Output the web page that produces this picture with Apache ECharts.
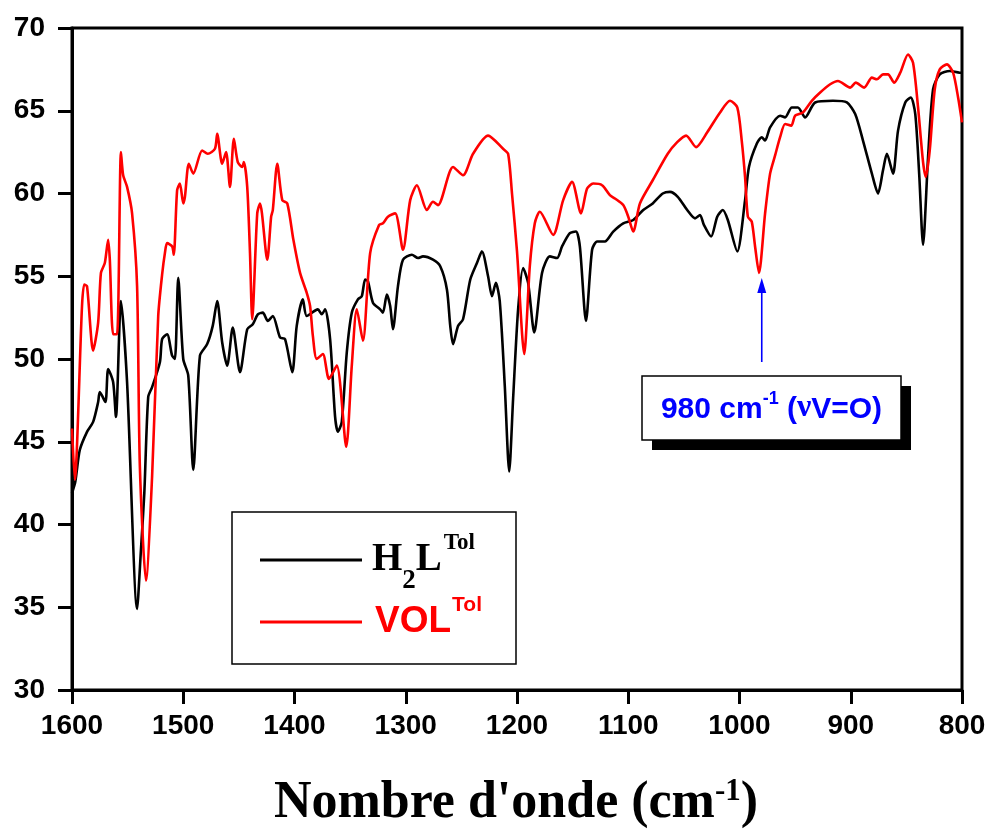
<!DOCTYPE html>
<html><head><meta charset="utf-8">
<script src="https://cdn.jsdelivr.net/npm/echarts@6/dist/echarts.min.js"></script>
<style>html,body{margin:0;padding:0;background:#fff}#c{width:989px;height:831px}</style>
</head><body><div id="c"></div>
<script>
// [wavenumber (cm-1), transmittance]
const h2lData = [[1600,41.9],[1597,42.6],[1593,44.5],[1586.5,45.6],[1581,46.2],[1576.5,47.4],[1575,48],[1570,47.4],[1567.5,49.4],[1563,48.6],[1560.5,46.5],[1556,53.5],[1550.5,48.6],[1541.5,34.9],[1538,38.5],[1535,41.9],[1531.5,47.7],[1528,48.3],[1521,49.8],[1519,51.2],[1514.5,51.5],[1510,50.2],[1507.5,50],[1504.5,54.9],[1500,50],[1495.5,49],[1491,43.3],[1485,50.2],[1478.5,50.9],[1473.5,52],[1469.5,53.5],[1465,51],[1460.5,49.6],[1455.5,51.9],[1449,49.2],[1442.5,51.8],[1437.5,52.1],[1433,52.7],[1428.5,52.8],[1424,52.3],[1419.5,52.6],[1413,51.3],[1408.5,51.2],[1402,49.2],[1398,52],[1392.5,53.6],[1389,52.6],[1379,53],[1375.5,52.7],[1372.5,53],[1368,51.2],[1363.5,46.5],[1361,45.6],[1357.5,46.2],[1353,50.4],[1348.5,52.8],[1343,53.6],[1339.5,53.8],[1336.5,54.8],[1334,54.7],[1329.5,53.4],[1323,53],[1320.5,52.8],[1317,53.9],[1314,53.2],[1311.5,51.8],[1307,54.4],[1302.5,56],[1294.5,56.3],[1289,56.1],[1284.5,56.2],[1275.5,56],[1269,55.6],[1263,54.2],[1260,52],[1257.5,50.9],[1253,52],[1248.5,52.4],[1242,54.8],[1236,55.8],[1231.5,56.5],[1226,55],[1222.5,53.8],[1219,54.6],[1215.5,53.5],[1211,48.4],[1207,43.2],[1203.5,47.6],[1199,53],[1194.5,55.5],[1190,54.6],[1184.5,51.6],[1177.5,55.2],[1170.5,56.2],[1164,56.1],[1159.5,56.8],[1152.5,57.6],[1147,57.7],[1143.5,56.8],[1138,52.3],[1132.5,56.6],[1128,57.1],[1121,57.1],[1113.5,57.7],[1104.5,58.2],[1095.5,58.4],[1086.5,59],[1078,59.4],[1069,60],[1062.5,60.1],[1055.5,59.8],[1047,59],[1040,58.5],[1035.5,58.7],[1032,58.1],[1025.5,57.4],[1020,58.6],[1015,59],[1010.5,58.4],[1002,56.5],[995,59.6],[991.5,61.6],[984.5,63],[980,63.4],[977,63.2],[972.5,64],[963.5,64.7],[959,64.6],[953,65.2],[947.5,65.2],[941,64.6],[932,65.5],[916,65.6],[903.5,65.5],[896,64.8],[889,63.2],[881,61.2],[875.5,60],[871,61.4],[867.5,62.4],[862,61.2],[857.5,63.8],[851,65.5],[846,65.8],[842,64.8],[838.5,61.2],[835,56.9],[830.5,62.2],[826,66.3],[820,67.2],[811,67.4],[802,67.3],[800,67.3]];

const volData = [[1600,45.8],[1597.5,42.7],[1591,53.2],[1589,54.5],[1586.5,54.4],[1581,50.5],[1576.5,52.2],[1574,55.2],[1570.5,55.8],[1567.5,57.2],[1566,56],[1563,51.5],[1559.5,51.5],[1556,62.5],[1554,61.1],[1550.5,60.4],[1546,58.8],[1541.5,54.4],[1539,43.5],[1533.5,36.6],[1528,42.9],[1522.5,52.6],[1519,55.1],[1516.5,56.4],[1514.5,57],[1510,56.8],[1508.5,56.3],[1505.5,60.2],[1503,60.6],[1500,59.4],[1498.5,59.8],[1495,61.8],[1491,61.2],[1483,62.6],[1478,62.4],[1471.5,62.7],[1469.5,63.6],[1465,61.8],[1461.5,62.5],[1458,60.4],[1454.5,63.3],[1451,61.9],[1447,61.6],[1445.5,61.9],[1442.5,60.4],[1440,56.4],[1438,52.4],[1433.5,58.8],[1431,59.4],[1424.5,56],[1421,58.6],[1419.5,59],[1415.5,61.8],[1411,59.6],[1406.5,59.4],[1401,57.2],[1395,55.2],[1389,54],[1386,53.2],[1383.5,51.4],[1380,50],[1374.5,50.3],[1369,48.8],[1362,49.6],[1353.5,44.7],[1348.5,49.6],[1344,53],[1338.5,51.1],[1332,56.4],[1324,58.1],[1320.5,58.2],[1316,58.6],[1309.5,58.8],[1302.5,56.6],[1296,59.6],[1290,60.5],[1281,59],[1275.5,59.5],[1271,59.3],[1257.5,61.6],[1248.5,61.1],[1239.5,62.4],[1226,63.5],[1212.5,62.7],[1208,62.4],[1204.5,60],[1200,56.5],[1193.5,50.3],[1188.5,55.6],[1184,58.2],[1179.5,58.9],[1167.5,57.5],[1158.5,59.6],[1150.5,60.7],[1142.5,58.8],[1137,60.3],[1131.5,60.6],[1123.5,60.5],[1116.5,59.9],[1112,59.7],[1104.5,59.3],[1100,58.6],[1095.5,57.7],[1089.5,59.4],[1078,60.8],[1064.5,62.4],[1056,63.1],[1048,63.5],[1039,62.8],[1029,63.7],[1017.5,64.9],[1008.5,65.6],[1002,65.2],[998,63.2],[995,61],[992.5,58.6],[989,58.3],[986,56.8],[982.5,55.2],[977,58.8],[972.5,61.2],[968,62.3],[963.5,63.4],[959,64.2],[953.5,64.1],[950,64.7],[943,64.9],[935,65.6],[927.5,66.1],[918.5,66.6],[911.5,66.8],[900.5,66.4],[895.5,66.7],[888,66.4],[881,67],[876.5,66.9],[871,67.2],[866.5,67.2],[861,66.7],[855.5,67.3],[848.5,68.4],[844,67.9],[839.5,65.2],[835,61.9],[832.5,61],[829,62.6],[824.5,66.3],[820,67.5],[813.5,67.8],[808,67.3],[803.5,65.8],[800,64.3]];

const seriesNames = ['H2L', 'VOL'];
const xRange = [800, 1600];
const yRange = [30, 70];
const annotWave = 980;

const SERIF = '"Liberation Serif","Times New Roman",serif';
const SANS = '"Liberation Sans",Arial,sans-serif';
const ctx = document.createElement('canvas').getContext('2d');
function tw(t, f) { ctx.font = f; return ctx.measureText(t).width; }
function txt(t, x, y, font, fill) {
  return { type: 'text', x: x, y: y, z: 100,
    style: { text: t, font: font, fill: fill, textAlign: 'left', textVerticalAlign: 'middle', align: 'left', verticalAlign: 'middle' } };
}

const chart = echarts.init(document.getElementById('c'), null, { renderer: 'canvas' });

// title pieces
const fT1 = 'bold 52px ' + SERIF, fT2 = 'bold 31px ' + SERIF;
const t1 = "Nombre d'onde (cm", t2 = '-1', t3 = ')';
const wT = tw(t1, fT1) + tw(t2, fT2) + tw(t3, fT1);
const tx0 = 516 - wT / 2;

// legend pieces
const fL = 'bold 39px ' + SERIF, fLs = 'bold 27px ' + SERIF, fLsup = 'bold 23px ' + SERIF;
const hx = 372;
const fV = 'bold 37px ' + SANS, fVs = 'bold 21px ' + SANS;
const vx = 375;

// annotation pieces
const fA = 'bold 30px ' + SANS, fAs = 'bold 18px ' + SANS, fAg = 'bold 32px ' + SERIF;
const a1 = '980 cm', a2 = '-1', a3 = ' (', a4 = '\u03BD', a5 = 'V=O)';
const wA = tw(a1, fA) + tw(a2, fAs) + tw(a3, fA) + tw(a4, fAg) + tw(a5, fA);
const ax0 = 771.5 - wA / 2;
const blue = '#0000ff';

const graphics = [
  // legend
  { type: 'rect', z: 90, shape: { x: 232, y: 512, width: 284, height: 152 }, style: { fill: '#fff', stroke: '#000', lineWidth: 1.5 } },
  { type: 'line', z: 100, shape: { x1: 260, y1: 560, x2: 362, y2: 560 }, style: { stroke: '#000', lineWidth: 3 } },
  { type: 'line', z: 100, shape: { x1: 260, y1: 622, x2: 362, y2: 622 }, style: { stroke: '#ff0000', lineWidth: 3 } },
  txt('H', hx, 560, fL, '#000'),
  txt('2', hx + tw('H', fL), 581, fLs, '#000'),
  txt('L', hx + tw('H', fL) + tw('2', fLs), 560, fL, '#000'),
  txt('Tol', hx + tw('H', fL) + tw('2', fLs) + tw('L', fL) + 2, 543, fLsup, '#000'),
  txt('VOL', vx, 622, fV, '#ff0000'),
  txt('Tol', vx + tw('VOL', fV) + 1, 605, fVs, '#ff0000'),
  // annotation box
  { type: 'rect', z: 90, shape: { x: 652, y: 386, width: 259, height: 64 }, style: { fill: '#000' } },
  { type: 'rect', z: 91, shape: { x: 642, y: 376, width: 259, height: 64 }, style: { fill: '#fff', stroke: '#000', lineWidth: 1.5 } },
  txt(a1, ax0, 410, fA, blue),
  txt(a2, ax0 + tw(a1, fA), 399, fAs, blue),
  txt(a3, ax0 + tw(a1, fA) + tw(a2, fAs), 410, fA, blue),
  txt(a4, ax0 + tw(a1, fA) + tw(a2, fAs) + tw(a3, fA), 408, fAg, blue),
  txt(a5, ax0 + tw(a1, fA) + tw(a2, fAs) + tw(a3, fA) + tw(a4, fAg), 410, fA, blue),
  // title
  txt(t1, tx0, 804, fT1, '#000'),
  txt(t2, tx0 + tw(t1, fT1), 792, fT2, '#000'),
  txt(t3, tx0 + tw(t1, fT1) + tw(t2, fT2), 804, fT1, '#000')
];

chart.setOption({
  animation: false,
  backgroundColor: '#fff',
  grid: { left: 72, right: 27, top: 28, bottom: 141, show: true, borderColor: '#000', borderWidth: 3, backgroundColor: 'transparent', containLabel: false, outerBoundsMode: 'none' },
  xAxis: {
    type: 'value', min: xRange[0], max: xRange[1], interval: 100, inverse: true,
    axisLine: { show: true, lineStyle: { color: '#000', width: 3 } },
    axisTick: { show: true, inside: false, length: 14, lineStyle: { color: '#000', width: 3 } },
    axisLabel: { margin: 22, color: '#000', fontWeight: 'bold', fontSize: 28, fontFamily: SANS, formatter: v => String(v) },
    splitLine: { show: false }
  },
  yAxis: {
    type: 'value', min: yRange[0], max: yRange[1], interval: 5,
    axisLine: { show: true, lineStyle: { color: '#000', width: 3 } },
    axisTick: { show: true, inside: false, length: 14, lineStyle: { color: '#000', width: 3 } },
    axisLabel: { margin: 27, color: '#000', fontWeight: 'bold', fontSize: 28, fontFamily: SANS, formatter: v => String(v) },
    splitLine: { show: false }
  },
  series: [
    { name: seriesNames[0], type: 'line', data: h2lData, showSymbol: false, smooth: 0.25, lineStyle: { color: '#000', width: 2.6 }, itemStyle: { color: '#000' }, z: 3 },
    { name: seriesNames[1], type: 'line', data: volData, showSymbol: false, smooth: 0.25, lineStyle: { color: '#ff0000', width: 2.6 }, itemStyle: { color: '#ff0000' }, z: 4 }
  ],
  graphic: graphics
});

// arrow pointing to the 980 cm-1 band, placed via the axis scale
const px = chart.convertToPixel({ xAxisIndex: 0 }, annotWave);
chart.setOption({
  graphic: graphics.concat([
    { type: 'line', z: 100, shape: { x1: px, y1: 362, x2: px, y2: 290 }, style: { stroke: blue, lineWidth: 1.6 } },
    { type: 'polygon', z: 100, shape: { points: [[px, 278], [px - 4.5, 293], [px + 4.5, 293]] }, style: { fill: blue } }
  ])
});
</script>
</body></html>
